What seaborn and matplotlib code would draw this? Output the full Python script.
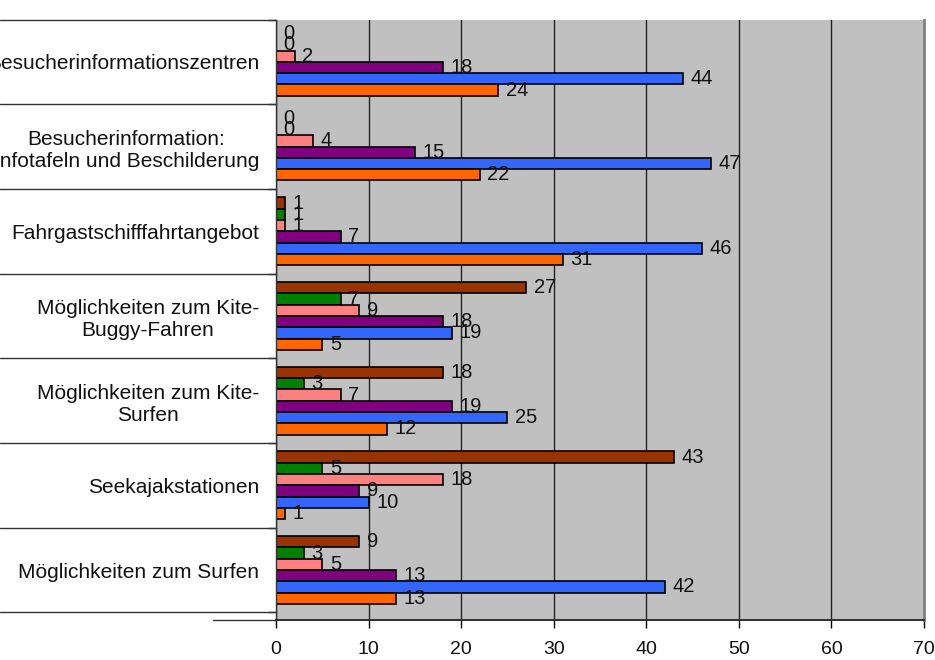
import numpy as np
import pandas as pd
import matplotlib
matplotlib.use("Agg")
import matplotlib.pyplot as plt
import seaborn as sns

# ---------------- data ----------------
categories = [
    "Besucherinformationszentren",
    "Besucherinformation:\nInfotafeln und Beschilderung",
    "Fahrgastschifffahrtangebot",
    "Möglichkeiten zum Kite-\nBuggy-Fahren",
    "Möglichkeiten zum Kite-\nSurfen",
    "Seekajakstationen",
    "Möglichkeiten zum Surfen",
]
series_names = ["Reihe 6", "Reihe 5", "Reihe 4", "Reihe 3", "Reihe 2", "Reihe 1"]
brown = [0, 0, 1, 27, 18, 43, 9]
green = [0, 0, 1, 7, 3, 5, 3]
pink = [2, 4, 1, 9, 7, 18, 5]
purple = [18, 15, 7, 18, 19, 9, 13]
blue = [44, 47, 46, 19, 25, 10, 42]
orange = [24, 22, 31, 5, 12, 1, 13]
series_values = [brown, green, pink, purple, blue, orange]
colors = ["#993300", "#008000", "#FF8080", "#800080", "#3366FF", "#FF6600"]
x_ticks = [0, 10, 20, 30, 40, 50, 60, 70]

rows = []
for name, vals in zip(series_names, series_values):
    for cat, v in zip(categories, vals):
        rows.append({"Kategorie": cat, "Reihe": name, "Wert": v})
df = pd.DataFrame(rows)

# ---------------- style ----------------
sns.set_style("white")
plt.rcParams["font.family"] = ["Liberation Sans", "DejaVu Sans"]

W, H = 935, 660
fig = plt.figure(figsize=(W / 100, H / 100), dpi=100)
left_px, right_px, top_px, bottom_px = 276, 924, 19.5, 620
ax = fig.add_axes([left_px / W, 1 - bottom_px / H,
                   (right_px - left_px) / W, (bottom_px - top_px) / H])
ax.set_facecolor("#C0C0C0")

sns.barplot(data=df, y="Kategorie", x="Wert", hue="Reihe",
            order=categories, hue_order=series_names,
            palette=dict(zip(series_names, colors)),
            orient="h", width=0.8, saturation=1, dodge=True,
            edgecolor="black", linewidth=1.2, errorbar=None,
            legend=False, ax=ax)

for cont in ax.containers:
    ax.bar_label(cont, fmt="%g", padding=5.5, fontsize=14.5, color="#111111")

# axes limits
n = len(categories)
ax.set_xlim(0, 70)
ax.set_ylim((bottom_px - top_px) / 84.7 - 0.5, -0.5)

ax.set_xticks(x_ticks)
ax.set_xticklabels([str(t) for t in x_ticks])
ax.tick_params(axis="x", length=6, width=1, color="black", direction="out",
               pad=9, labelsize=14, bottom=True, labelcolor="#111111")

ax.set_yticks(range(n))
ax.set_yticklabels(categories, fontsize=15, color="#111111")
for t in ax.get_yticklabels():
    t.set_multialignment("center")
ax.tick_params(axis="y", length=0, pad=12.2, left=True)
ax.set_yticks(np.arange(n + 1) - 0.5, minor=True)
ax.tick_params(axis="y", which="minor", length=6, width=1, color="#333333",
               direction="out", left=True)

ax.set_xlabel("")
ax.set_ylabel("")

# gridlines
ax.set_axisbelow(True)
ax.xaxis.grid(True, color="#222222", linewidth=1)
ax.yaxis.grid(False)

# spines
ax.spines["top"].set_visible(False)
ax.spines["left"].set_color("#333333")
ax.spines["left"].set_linewidth(1)
ax.spines["bottom"].set_color("#222222")
ax.spines["bottom"].set_linewidth(1.3)
ax.spines["right"].set_color("#808080")
ax.spines["right"].set_linewidth(2)

# category table separator lines on the left
x0 = -left_px / (right_px - left_px)
for b in np.arange(n + 1) - 0.5:
    ax.plot([x0, 0], [b, b], transform=ax.get_yaxis_transform(),
            color="#333333", lw=1, clip_on=False)
# x-axis line extension to the left
ax.plot([(213 - left_px) / (right_px - left_px), 0], [0, 0],
        transform=ax.transAxes, color="#333333", lw=1, clip_on=False)

fig.savefig("out.png", dpi=100)
